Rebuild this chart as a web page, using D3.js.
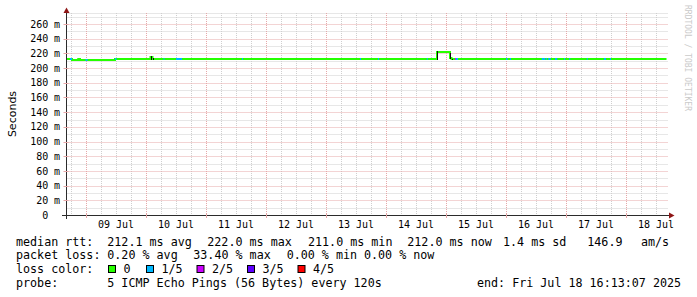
<!DOCTYPE html>
<html>
<head>
<meta charset="utf-8">
<script src="https://cdn.jsdelivr.net/npm/d3@7"></script>
<style>
body{margin:0;background:#fff}
svg text{font-family:"DejaVu Sans Mono",monospace;fill:#000}
</style>
</head>
<body>
<svg id="chart" width="697" height="297"></svg>
<script>
// smokeping style rtt graph, 10 days ending Fri Jul 18 16:13:07 2025

var startTime = Date.UTC(2025, 6, 8, 16, 13, 7);
var endTime = Date.UTC(2025, 6, 18, 16, 13, 7);

// median rtt steps: start hour (from startTime), rtt in ms, lost pings out of 5
var segHours = [0, 1.4, 2.2, 4.7, 5.4, 7.6, 8.4, 19.4, 20.0, 33.6, 34.4, 38.8, 39.2, 43.8, 46.2,
	70.2, 70.6, 117.4, 117.8, 124.6, 125.0, 144.1, 144.5, 148.2, 153.4, 154.0, 155.4, 155.8, 156.6,
	175.8, 176.4, 177.4, 177.8, 190.1, 191.4, 191.7, 192.1, 192.7, 193.7, 195.4, 196.3, 199.0, 199.4,
	201.1, 201.5, 208.1, 208.5, 215.0, 215.8, 217.4, 217.8];
var segRtt = [212.0, 212.0, 211.0, 212.0, 211.0, 211.4, 211.0, 212.0, 212.0, 215.5, 212.0, 212.0, 212.0, 212.0, 212.0,
	212.0, 212.0, 212.0, 212.0, 212.0, 212.0, 212.0, 212.0, 222.0, 214.0, 212.0, 212.0, 212.0, 212.0,
	212.0, 212.0, 212.0, 212.0, 212.0, 212.0, 212.0, 212.0, 212.0, 212.0, 212.0, 212.0, 212.0, 212.0,
	212.0, 212.0, 212.0, 212.0, 212.0, 212.0, 212.0, 212.0];
var segLoss = [0, 1, 0, 0, 0, 1, 0, 1, 0, 0, 0, 1, 0, 1, 0,
	1, 0, 1, 0, 1, 0, 1, 0, 0, 0, 0, 2, 1, 0,
	1, 0, 1, 0, 1, 0, 1, 0, 1, 0, 1, 0, 1, 0,
	1, 0, 1, 0, 1, 0, 1, 0];
var totalHours = 240;

// bits of smoke poking out above the median
var smokeHours = [4.6, 39.3];
var smokeTop = [214.3, 214.3];

var yTicks = [0, 20, 40, 60, 80, 100, 120, 140, 160, 180, 200, 220, 240, 260];
var lossNames = ["0", "1/5", "2/5", "3/5", "4/5"];
var lossColors = ["#26ff00", "#00b8ff", "#cc00ff", "#5e00ff", "#ff0000"];

var legendRtt = [["median rtt:", 16], ["212.1 ms avg", 107.3], ["222.0 ms max", 207.3], ["211.0 ms min", 308],
	["212.0 ms now", 407.3], ["1.4 ms sd", 503], ["146.9", 587.3], ["am/s", 641]];
var legendLoss = [["packet loss:", 16], ["0.20 % avg", 107.3], ["33.40 % max", 193.3], ["0.00 % min", 286.7], ["0.00 % now", 364]];
var legendProbe = [["probe:", 16], ["5 ICMP Echo Pings (56 Bytes) every 120s", 107.3], ["end: Fri Jul 18 16:13:07 2025", 477]];

var svg = d3.select("#chart");
var plotL = 66.5, plotR = 666.5, plotT = 13, plotB = 215;

var x = d3.scaleUtc().domain([new Date(startTime), new Date(endTime)]).range([plotL, plotR]);
var y = d3.scaleLinear().domain([0, 275]).range([plotB, plotT]);
function hx(h){ return x(new Date(startTime + h*3600e3)); }
function py(v){ return Math.round(y(v)) + 0.5; }
function ly(v){ return Math.round(y(v)); } // 2px lines sit on whole pixels

var minorCol = "#cfcfcf", majorCol = "#e6a8a8";

// grid
var grid = svg.append("g").attr("class", "grid");
var minorY = d3.range(10, 275, 10).filter(function(v){ return v % 20 != 0; });
grid.selectAll(".hmin").data(minorY.concat([275])).enter().append("line")
	.attr("x1", plotL).attr("x2", plotR + 1)
	.attr("y1", function(d){ return py(d); }).attr("y2", function(d){ return py(d); })
	.attr("stroke", minorCol).attr("stroke-dasharray", "1,1");

var days = d3.utcDay.range(new Date(startTime), new Date(endTime));
var sixHours = d3.utcHour.every(6).range(new Date(startTime), new Date(endTime))
	.filter(function(d){ return d.getUTCHours() != 0; });
grid.selectAll(".vmin").data(sixHours).enter().append("line")
	.attr("x1", function(d){ return Math.round(x(d)) + 0.5; }).attr("x2", function(d){ return Math.round(x(d)) + 0.5; })
	.attr("y1", plotT).attr("y2", plotB)
	.attr("stroke", minorCol).attr("stroke-dasharray", "1,1");

grid.selectAll(".hmaj").data(yTicks.slice(1)).enter().append("line")
	.attr("x1", plotL).attr("x2", plotR + 1)
	.attr("y1", function(d){ return py(d); }).attr("y2", function(d){ return py(d); })
	.attr("stroke", majorCol).attr("stroke-dasharray", "1,1");
grid.selectAll(".vmaj").data(days).enter().append("line")
	.attr("x1", function(d){ return Math.round(x(d)) + 0.5; }).attr("x2", function(d){ return Math.round(x(d)) + 0.5; })
	.attr("y1", plotT).attr("y2", plotB)
	.attr("stroke", majorCol).attr("stroke-dasharray", "1,1");

// smoke
svg.append("g").selectAll("rect").data(smokeHours).enter().append("rect")
	.attr("x", function(d){ return Math.round(hx(d)); }).attr("width", 1)
	.attr("y", function(d, i){ return ly(smokeTop[i]); })
	.attr("height", function(d, i){ return ly(212) - ly(smokeTop[i]); })
	.attr("fill", "#aaa");

// median line, first all in green as a step line, then loss colours on top
var pts = segHours.map(function(h, i){ return [hx(h), ly(segRtt[i])]; });
pts.push([hx(totalHours), ly(segRtt[segRtt.length - 1])]);
svg.append("path")
	.attr("d", d3.line().curve(d3.curveStepAfter)(pts))
	.attr("fill", "none").attr("stroke", lossColors[0]).attr("stroke-width", 2);

var segs = svg.append("g");
segHours.forEach(function(h, i){
	var h2 = i < segHours.length - 1 ? segHours[i + 1] : totalHours;
	if (segLoss[i] > 0) {
		segs.append("line")
			.attr("x1", hx(h)).attr("x2", hx(h2))
			.attr("y1", ly(segRtt[i])).attr("y2", ly(segRtt[i]))
			.attr("stroke", lossColors[segLoss[i]]).attr("stroke-width", 2);
	}
	if (i > 0 && Math.abs(segRtt[i] - segRtt[i - 1]) > 1.5) {
		var xx = Math.round(hx(h)) + 0.5;
		segs.append("line")
			.attr("x1", xx).attr("x2", xx)
			.attr("y1", ly(segRtt[i - 1]) + 1).attr("y2", ly(segRtt[i]) + (segRtt[i] > segRtt[i - 1] ? -1 : 1))
			.attr("stroke", "#111").attr("stroke-width", 1);
	}
});

// axes
var axisCol = "#2b2b2b", arrowCol = "#8e1616";
svg.append("line").attr("x1", 62).attr("x2", 670).attr("y1", plotB + 0.5).attr("y2", plotB + 0.5)
	.attr("stroke", axisCol);
svg.append("line").attr("x1", plotL).attr("x2", plotL).attr("y1", 12).attr("y2", 219)
	.attr("stroke", axisCol);
svg.append("path").attr("d", "M669,212.5L674.5,215.5L669,218.5Z").attr("fill", arrowCol);
svg.append("path").attr("d", "M63.5,13L66.5,7.5L69.5,13Z").attr("fill", arrowCol);

// small ticks
svg.selectAll(".xt").data(days).enter().append("line")
	.attr("x1", function(d){ return Math.round(x(d)) + 0.5; }).attr("x2", function(d){ return Math.round(x(d)) + 0.5; })
	.attr("y1", plotB - 2).attr("y2", plotB + 3).attr("stroke", majorCol);
svg.selectAll(".yt").data(yTicks.slice(1)).enter().append("line")
	.attr("x1", plotL - 3).attr("x2", plotL + 2)
	.attr("y1", function(d){ return py(d); }).attr("y2", function(d){ return py(d); }).attr("stroke", majorCol);

// y labels
var yl = svg.append("g").attr("font-size", "10px");
yl.selectAll(".num").data(yTicks).enter().append("text")
	.attr("x", 48.3).attr("y", function(d){ return y(d) + 3.6; })
	.attr("text-anchor", "end").text(function(d){ return d; });
yl.selectAll(".unit").data(yTicks.slice(1)).enter().append("text")
	.attr("x", 54).attr("y", function(d){ return y(d) + 3.6; })
	.text("m");

// x labels, centered on noon
svg.append("g").attr("font-size", "10px").selectAll("text").data(days).enter().append("text")
	.attr("x", function(d){ return x(d3.utcHour.offset(d, 12)); }).attr("y", 227.5)
	.attr("text-anchor", "middle").text(d3.utcFormat("%d %b"));

svg.append("text").attr("transform", "translate(15.5,114)rotate(-90)")
	.attr("text-anchor", "middle").style("font-family", "'DejaVu Sans',sans-serif").attr("font-size", "11px")
	.text("Seconds");

svg.append("text").attr("transform", "translate(684.5,5)rotate(90)")
	.attr("font-size", "8px").style("fill", "#cacaca")
	.text("RRDTOOL / TOBI OETIKER");

// legend
var leg = svg.append("g").attr("font-size", "11.7px");
function row(items, yy){
	items.forEach(function(t){
		leg.append("text").attr("x", t[1]).attr("y", yy).text(t[0]);
	});
}
row(legendRtt, 245.5);
row(legendLoss, 259.4);
row(legendProbe, 287.2);
leg.append("text").attr("x", 16).attr("y", 273.3).text("loss color:");
var boxX = [108.5, 146.5, 197, 247.5, 298];
lossNames.forEach(function(n, i){
	leg.append("rect").attr("x", boxX[i]).attr("y", 265.5).attr("width", 7).attr("height", 7)
		.attr("fill", lossColors[i]).attr("stroke", "#000");
	leg.append("text").attr("x", boxX[i] + 15).attr("y", 273.3).text(n);
});
</script>
</body>
</html>
